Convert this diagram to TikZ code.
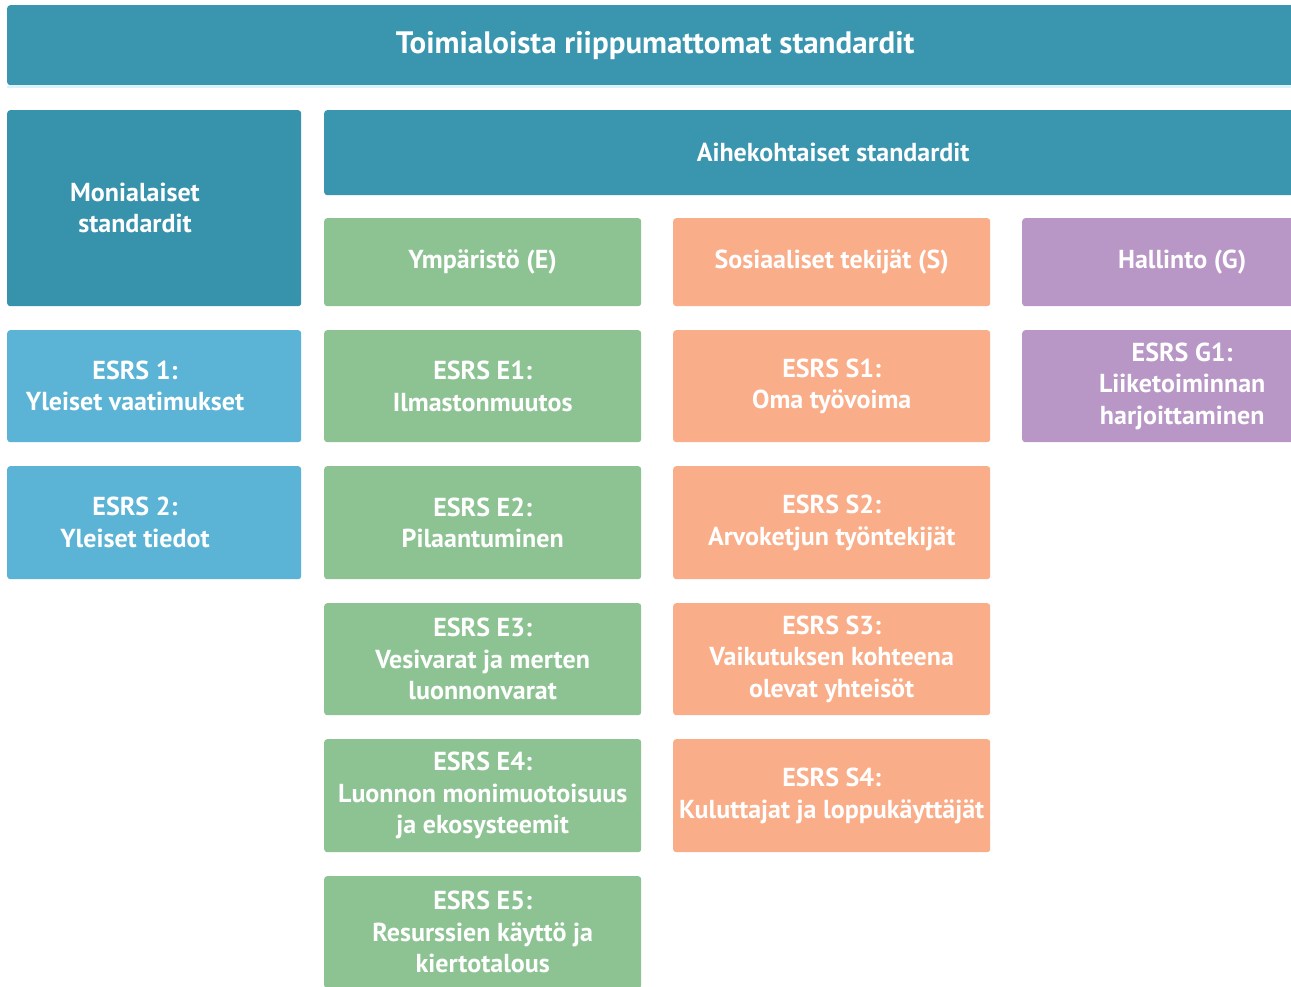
\documentclass[tikz,border=0pt]{standalone}
\usepackage{fontspec}
\setmainfont{PT Sans}
\definecolor{cteal}{HTML}{3A95AE}
\definecolor{cteald}{HTML}{3792AC}
\definecolor{clblue}{HTML}{5BB3D5}
\definecolor{cgreen}{HTML}{8DC393}
\definecolor{csalmon}{HTML}{F9AD89}
\definecolor{cpurple}{HTML}{B896C5}
\begin{document}
\begin{tikzpicture}[x=1pt,y=-1pt,
  bx/.style={rounded corners=3pt, draw=none, inner sep=0pt, anchor=north west,
    text=white, align=center, font=\bfseries\fontsize{26}{31.5}\selectfont},
  tl/.style={text=white, align=center, inner sep=0pt, font=\bfseries\fontsize{26}{31.5}\selectfont},
  colL/.style={bx, minimum width=294pt},
  colE/.style={bx, fill=cgreen, minimum width=317pt},
  colS/.style={bx, fill=csalmon, minimum width=317pt},
  colG/.style={bx, fill=cpurple, minimum width=320pt},
  rA/.style={minimum height=88pt},
  rB/.style={minimum height=112pt},
  rC/.style={minimum height=113pt}
]
\useasboundingbox (0,0) rectangle (1291,987);
\fill[white] (0,0) rectangle (1291,987);
\clip (0,0) rectangle (1291,987);

% top bar
\node[bx, fill=cteal, minimum width=1296pt, minimum height=80pt,
  font=\bfseries\fontsize{31}{34}\selectfont] (top) at (7,5) {Toimialoista riippumattomat standardit};
\draw[cyan!15, line width=2pt] (top.south west) ++(0,1.5) -- ++(1284,0);

% left column
\node[colL, fill=cteald, minimum height=196pt] (mon) at (7,110) {};
\node[tl] (mont) at (135,208) {Monialaiset\\standardit};
\node[colL, fill=clblue, rB] (esrs1) at (7,330) {};
\node[tl] (esrs1t) at (135,386) {ESRS 1:\\Yleiset vaatimukset};
\node[colL, fill=clblue, rC] (esrs2) at (7,466) {};
\node[tl] (esrs2t) at (135,522.5) {ESRS 2:\\Yleiset tiedot};

% topical bar
\node[bx, fill=cteal, minimum width=1018pt, minimum height=85pt] (aihe) at (324,110) {Aihekohtaiset standardit};

% environment
\node[colE, rA] (ymp) at (324,218) {Ympäristö (E)};
\node[colE, rB] (e1) at (324,330) {ESRS E1:\\Ilmastonmuutos};
\node[colE, rC] (e2) at (324,466) {ESRS E2:\\Pilaantuminen};
\node[colE, rB] (e3) at (324,603) {ESRS E3:\\Vesivarat ja merten\\luonnonvarat};
\node[colE, rC] (e4) at (324,739) {ESRS E4:\\Luonnon monimuotoisuus\\ja ekosysteemit};
\node[colE, rB] (e5) at (324,876) {ESRS E5:\\Resurssien käyttö ja\\kiertotalous};

% social
\node[colS, rA] (sos) at (673,218) {Sosiaaliset tekijät (S)};
\node[colS, rB] (s1) at (673,330) {ESRS S1:\\Oma työvoima};
\node[colS, rC] (s2) at (673,466) {ESRS S2:\\Arvoketjun työntekijät};
\node[colS, rB] (s3) at (673,603) {ESRS S3:\\Vaikutuksen kohteena\\olevat yhteisöt};
\node[colS, rC] (s4) at (673,739) {ESRS S4:\\Kuluttajat ja loppukäyttäjät};

% governance
\node[colG, rA] (hal) at (1022,218) {Hallinto (G)};
\node[colG, rB] (g1) at (1022,330) {ESRS G1:\\Liiketoiminnan\\harjoittaminen};
\end{tikzpicture}
\end{document}
